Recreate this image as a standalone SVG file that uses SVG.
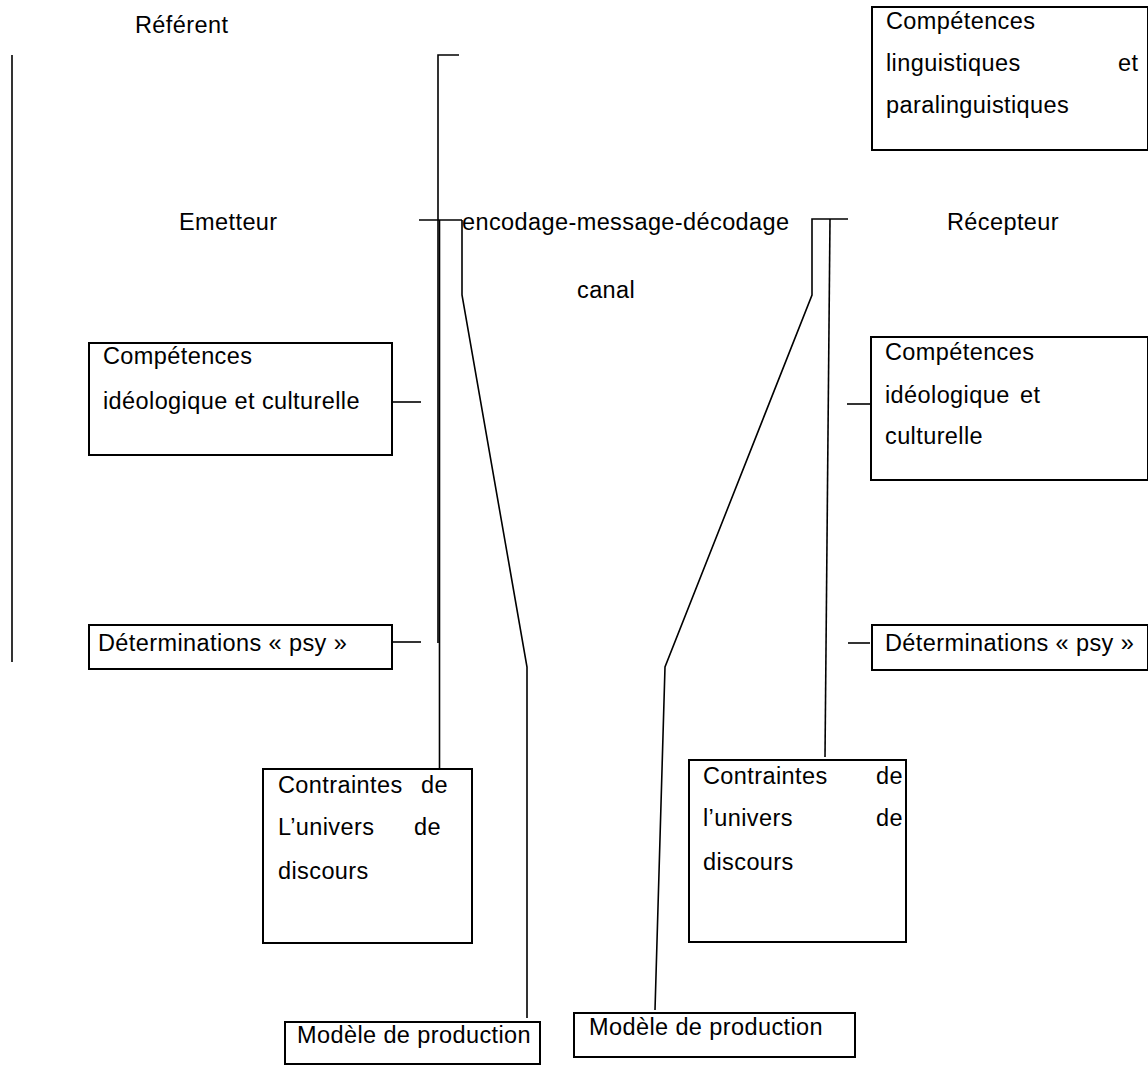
<svg xmlns="http://www.w3.org/2000/svg" width="1148" height="1066" viewBox="0 0 1148 1066">
<style>
text{font-family:"Liberation Sans",Arial,sans-serif;font-size:23.5px;letter-spacing:0.4px;fill:#000}
.box{fill:#fff;stroke:#000;stroke-width:2}
.ln{fill:none;stroke:#000;stroke-width:1.6}
</style>
<rect width="1148" height="1066" fill="#fff"/>
<g id="connectors">
<line class="ln" x1="12" y1="55" x2="12" y2="662"/>
<polyline class="ln" points="459,55 438,55 438,643"/>
<line class="ln" x1="439.5" y1="220" x2="439.5" y2="768"/>
<line class="ln" x1="419" y1="220" x2="462" y2="220"/>
<polyline class="ln" points="462,220 462,295 527,667 527,1018"/>
<polyline class="ln" points="848,219 812,219 812,295 665,667 655,1010"/>
<line class="ln" x1="830" y1="219" x2="825" y2="757"/>
<line class="ln" x1="390" y1="402" x2="421" y2="402"/>
<line class="ln" x1="390" y1="642" x2="421" y2="642"/>
<line class="ln" x1="847" y1="404" x2="871" y2="404"/>
<line class="ln" x1="848" y1="643" x2="870" y2="643"/>
</g>
<g id="referent"><text x="135" y="33">Référent</text></g>
<g id="emetteur"><text x="179" y="230">Emetteur</text></g>
<g id="message"><text x="462" y="230">encodage-message-décodage</text></g>
<g id="canal"><text x="577" y="298">canal</text></g>
<g id="recepteur"><text x="947" y="230">Récepteur</text></g>
<g id="comp-ling">
<rect class="box" x="872" y="7" width="276" height="143"/>
<text x="886" y="29">Compétences</text>
<text x="886" y="71">linguistiques</text><text x="1118" y="71">et</text>
<text x="886" y="113">paralinguistiques</text>
</g>
<g id="comp-ideo-left">
<rect class="box" x="89" y="343" width="303" height="112"/>
<text x="103" y="364">Compétences</text>
<text x="103" y="409">idéologique et culturelle</text>
</g>
<g id="comp-ideo-right">
<rect class="box" x="871" y="337" width="277" height="143"/>
<text x="885" y="360">Compétences</text>
<text x="885" y="403">idéologique</text><text x="1020" y="403">et</text>
<text x="885" y="444">culturelle</text>
</g>
<g id="psy-left">
<rect class="box" x="89" y="625" width="303" height="44"/>
<text x="98" y="651">Déterminations « psy »</text>
</g>
<g id="psy-right">
<rect class="box" x="872" y="625" width="276" height="45"/>
<text x="885" y="651">Déterminations « psy »</text>
</g>
<g id="contraintes-left">
<rect class="box" x="263" y="769" width="209" height="174"/>
<text x="278" y="793">Contraintes</text><text x="421" y="793">de</text>
<text x="278" y="835">L’univers</text><text x="414" y="835">de</text>
<text x="278" y="879">discours</text>
</g>
<g id="contraintes-right">
<rect class="box" x="689" y="760" width="217" height="182"/>
<text x="703" y="784">Contraintes</text><text x="876" y="784">de</text>
<text x="703" y="826">l’univers</text><text x="876" y="826">de</text>
<text x="703" y="870">discours</text>
</g>
<g id="modele-left">
<rect class="box" x="285" y="1022" width="255" height="42"/>
<text x="297" y="1043">Modèle de production</text>
</g>
<g id="modele-right">
<rect class="box" x="574" y="1013" width="281" height="44"/>
<text x="589" y="1035">Modèle de production</text>
</g>
</svg>
